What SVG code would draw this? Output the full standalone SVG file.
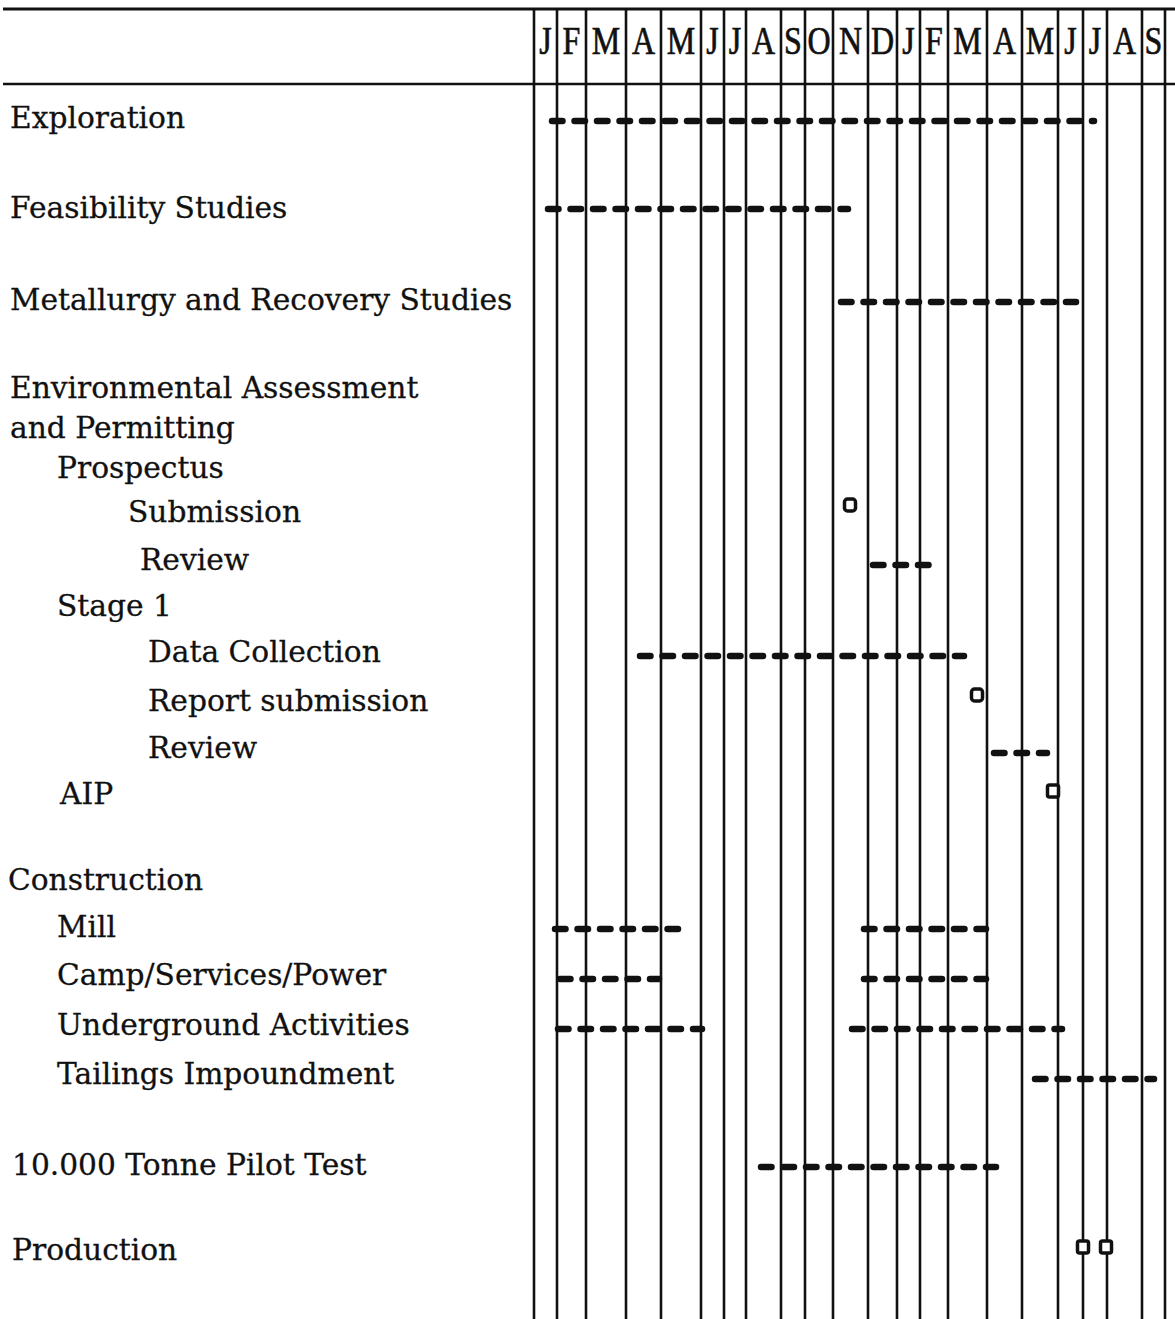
<svg xmlns="http://www.w3.org/2000/svg" width="1175" height="1319" viewBox="0 0 1175 1319">
<style>
.lbl{font-family:"DejaVu Serif","Liberation Serif",serif;font-size:29.7px;fill:#111;stroke:#111;stroke-width:0.3}
.mon{font-family:"Liberation Serif","Times New Roman",serif;font-size:40px;fill:#111;stroke:#111;stroke-width:0.7;text-anchor:middle}
.grid{stroke:#111;stroke-width:2.6;fill:none}
.bar{stroke:#111;stroke-width:6.5;stroke-linecap:round;stroke-dasharray:10.5 12;fill:none}
.ms{stroke:#111;stroke-width:3.5;fill:#fff}
</style>
<rect width="1175" height="1319" fill="#fff"/>
<g id="grid" class="grid">
<line x1="3" y1="9" x2="1175" y2="9" stroke-width="3"/>
<line x1="3" y1="84" x2="1175" y2="84"/>
<path d="M534 9V1319M557 9V1319M586 9V1319M626 9V1319M661 9V1319M701 9V1319M724 9V1319M746 9V1319M781 9V1319M805 9V1319M833 9V1319M868 9V1319M897 9V1319M920 9V1319M948 9V1319M987 9V1319M1022 9V1319M1058 9V1319M1083 9V1319M1107 9V1319M1142 9V1319M1165 9V1319"/>
</g>
<g id="months">
<text class="mon" transform="translate(545.5 54) scale(0.8 1)">J</text>
<text class="mon" transform="translate(571.5 54) scale(0.8 1)">F</text>
<text class="mon" transform="translate(606 54) scale(0.8 1)">M</text>
<text class="mon" transform="translate(643.5 54) scale(0.8 1)">A</text>
<text class="mon" transform="translate(681 54) scale(0.8 1)">M</text>
<text class="mon" transform="translate(712.5 54) scale(0.8 1)">J</text>
<text class="mon" transform="translate(735 54) scale(0.8 1)">J</text>
<text class="mon" transform="translate(763.5 54) scale(0.8 1)">A</text>
<text class="mon" transform="translate(793 54) scale(0.8 1)">S</text>
<text class="mon" transform="translate(819 54) scale(0.8 1)">O</text>
<text class="mon" transform="translate(850.5 54) scale(0.8 1)">N</text>
<text class="mon" transform="translate(882.5 54) scale(0.8 1)">D</text>
<text class="mon" transform="translate(908.5 54) scale(0.8 1)">J</text>
<text class="mon" transform="translate(934 54) scale(0.8 1)">F</text>
<text class="mon" transform="translate(967.5 54) scale(0.8 1)">M</text>
<text class="mon" transform="translate(1004.5 54) scale(0.8 1)">A</text>
<text class="mon" transform="translate(1040 54) scale(0.8 1)">M</text>
<text class="mon" transform="translate(1070.5 54) scale(0.8 1)">J</text>
<text class="mon" transform="translate(1095 54) scale(0.8 1)">J</text>
<text class="mon" transform="translate(1124.5 54) scale(0.8 1)">A</text>
<text class="mon" transform="translate(1153.5 54) scale(0.8 1)">S</text>
</g>
<g id="row-exploration"><text class="lbl" x="10" y="128">Exploration</text></g>
<g id="row-feasibility"><text class="lbl" x="10" y="218">Feasibility Studies</text></g>
<g id="row-metallurgy"><text class="lbl" x="10" y="310">Metallurgy and Recovery Studies</text></g>
<g id="row-environmental"><text class="lbl" x="10" y="398">Environmental Assessment</text><text class="lbl" x="10" y="438">and Permitting</text></g>
<g id="row-prospectus"><text class="lbl" x="57" y="478">Prospectus</text></g>
<g id="row-submission"><text class="lbl" x="128" y="522">Submission</text></g>
<g id="row-review1"><text class="lbl" x="140" y="570">Review</text></g>
<g id="row-stage1"><text class="lbl" x="57" y="616">Stage 1</text></g>
<g id="row-datacollection"><text class="lbl" x="148" y="662">Data Collection</text></g>
<g id="row-report"><text class="lbl" x="148" y="711">Report submission</text></g>
<g id="row-review2"><text class="lbl" x="148" y="758">Review</text></g>
<g id="row-aip"><text class="lbl" x="60" y="804">AIP</text></g>
<g id="row-construction"><text class="lbl" x="8" y="890">Construction</text></g>
<g id="row-mill"><text class="lbl" x="57" y="937">Mill</text></g>
<g id="row-camp"><text class="lbl" x="57" y="985">Camp/Services/Power</text></g>
<g id="row-underground"><text class="lbl" x="57" y="1035">Underground Activities</text></g>
<g id="row-tailings"><text class="lbl" x="57" y="1084">Tailings Impoundment</text></g>
<g id="row-pilot"><text class="lbl" x="12" y="1175">10.000 Tonne Pilot Test</text></g>
<g id="row-production"><text class="lbl" x="12" y="1260">Production</text></g>
<g id="bars" class="bar">
<path d="M552 121H1094"/>
<path d="M548 209H848"/>
<path d="M841 302H1076"/>
<path d="M873 565H931"/>
<path d="M640 656H964"/>
<path d="M994 753H1047"/>
<path d="M555 929H678M864 929H986"/>
<path d="M560 979H659M864 979H986"/>
<path d="M558 1029H702M852 1029H1062"/>
<path d="M1035 1079H1154"/>
<path d="M761 1167H996"/>
</g>
<g id="milestones" class="ms">
<rect x="844.5" y="499" width="11" height="12" rx="3"/>
<rect x="971.5" y="689" width="11" height="12" rx="3"/>
<rect x="1047.5" y="785" width="11" height="12" rx="2"/>
<rect x="1077.5" y="1241" width="11" height="12" rx="2"/>
<rect x="1100.5" y="1241" width="11" height="12" rx="2"/>
</g>
</svg>
